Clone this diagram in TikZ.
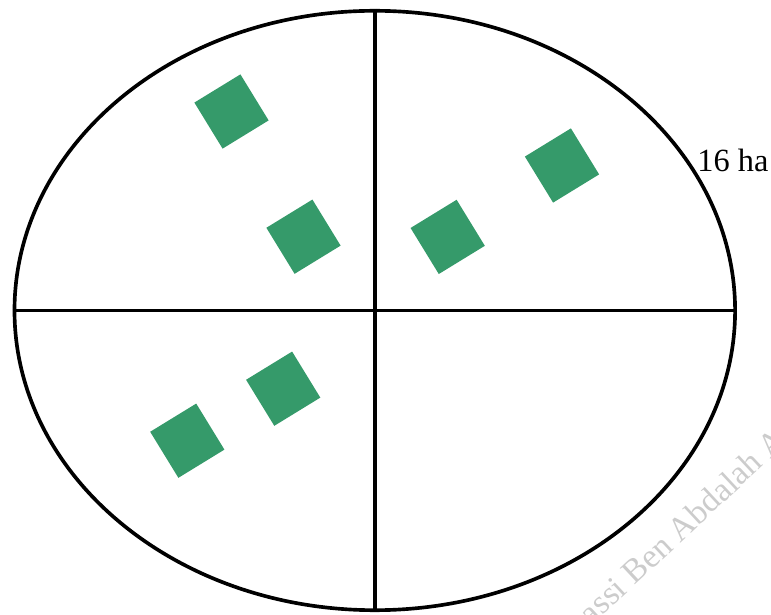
\documentclass[tikz,border=0pt]{standalone}
\usepackage{fontspec}
\setmainfont{Liberation Serif}
\usepackage{xcolor}
\usepackage{tikz}
\usetikzlibrary{positioning,shapes.geometric}
\definecolor{plotgreen}{RGB}{53,154,106}

\begin{document}
\begin{tikzpicture}[
      every node/.style={font=\fontsize{23}{27}\selectfont},
      fieldbox/.style={draw=black, line width=2.6pt, ellipse, inner sep=0pt, minimum width=18.015cm, minimum height=14.985cm},
      parcel/.style={fill=plotgreen, draw=none, minimum size=1.35cm, inner sep=0pt, rotate=31.5},
      divider/.style={line width=2.6pt, black}
    ]
      \clip (0,0) rectangle (19.275,15.35);

      % the field with its four quarters
      \node[fieldbox] (field) at (9.37,7.5875) {};
      \draw[divider] (field.north) -- (field.south);
      \draw[divider] (field.west) -- (field.east);
      \node[anchor=west, inner sep=0pt] (area) at (17.43,11.35) {16 ha};

      % top left quarter
      \node[parcel] (p1) at (5.7875,12.5625) {};
      \node[parcel] (p2) at (7.5875,9.4325) {};

      % top right quarter
      \node[parcel] (p5) at (11.1925,9.4275) {};
      \node[parcel] (p6) at (14.05,11.2125) {};

      % bottom left quarter
      \node[parcel] (p3) at (4.6825,4.3325) {};
      \node[parcel] (p4) at (7.08,5.6325) {};

      % watermark
      \node[text=black!20, rotate=43, font=\fontsize{24}{28}\selectfont] (mark) at (17.05,2.2) {assi Ben Abdalah A};
    \end{tikzpicture}
\end{document}
